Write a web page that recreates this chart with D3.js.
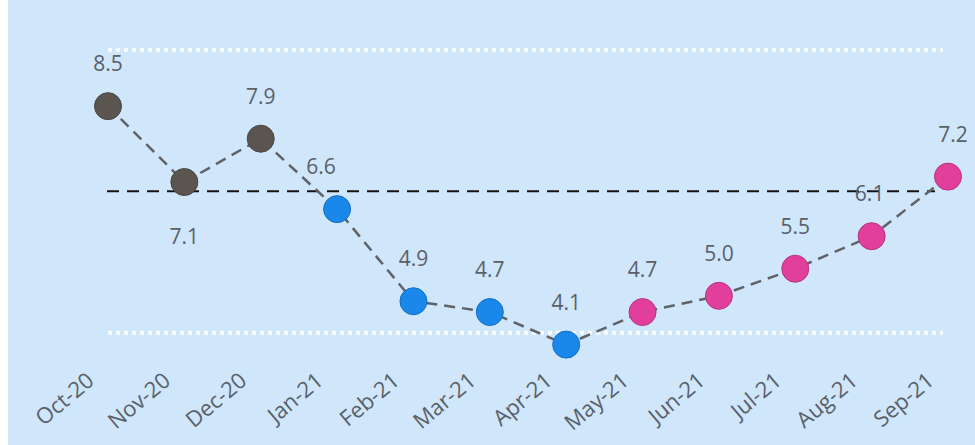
<!DOCTYPE html>
<html lang="en">
<head>
    <meta charset="UTF-8">
    <script src="https://d3js.org/d3.v7.min.js"></script>
    <title>Monthly values</title>
    <style>
        body { margin: 0; background: #fff; }
        text {
            font-family: 'Open Sans', sans-serif;
            fill: #5a6068;
        }
        .val { font-size: 21px; text-anchor: middle; }
    </style>
</head>
<body>
<script>
    const width = 975, height = 445;

    const months = ["Oct-20","Nov-20","Dec-20","Jan-21","Feb-21","Mar-21",
                    "Apr-21","May-21","Jun-21","Jul-21","Aug-21","Sep-21"];
    const values = [8.5, 7.1, 7.9, 6.6, 4.9, 4.7, 4.1, 4.7, 5.0, 5.5, 6.1, 7.2];
    const groups = ["a","a","a","b","b","b","b","c","c","c","c","c"];
    const centerLine = 6.93;
    const upperLimit = 9.54;
    const lowerLimit = 4.32;

    const colors = {a: "#5a554f", b: "#1a88ea", c: "#e23f9c"};

    const svg = d3.select("body").append("svg")
            .attr("width", width).attr("height", height);

    // light blue plot background, thin white strip on the left
    svg.append("rect")
            .attr("x", 8).attr("y", 0)
            .attr("width", width - 8).attr("height", height)
            .attr("fill", "#cfe6fb");

    const x = d3.scalePoint().domain(months).range([108, 948]);
    const y = d3.scaleLinear().domain([4, 9.5]).range([350, 52]);

    // limit lines
    [upperLimit, lowerLimit].forEach(v => {
        svg.append("line")
                .attr("x1", 108).attr("x2", 943)
                .attr("y1", y(v)).attr("y2", y(v))
                .attr("stroke", "#ffffff")
                .attr("stroke-width", 4)
                .attr("stroke-dasharray", "4,4")
                .attr("opacity", 0.85);
    });

    svg.append("line")
            .attr("x1", 107).attr("x2", 935)
            .attr("y1", y(centerLine)).attr("y2", y(centerLine))
            .attr("stroke", "#151515")
            .attr("stroke-width", 2)
            .attr("stroke-dasharray", "12,8");

    const line = d3.line()
            .x((d, i) => x(months[i]))
            .y(d => y(d));

    svg.append("path")
            .datum(values)
            .attr("d", line)
            .attr("fill", "none")
            .attr("stroke", "#5f6368")
            .attr("stroke-width", 2.5)
            .attr("stroke-dasharray", "11,7");

    svg.selectAll("circle.pt")
            .data(values)
            .join("circle")
            .attr("class", "pt")
            .attr("cx", (d, i) => x(months[i]))
            .attr("cy", d => y(d))
            .attr("r", 13.5)
            .attr("fill", (d, i) => colors[groups[i]])
            .attr("stroke", (d, i) => d3.color(colors[groups[i]]).darker(0.6))
            .attr("stroke-width", 1);

    // value labels, the second one sits under its point
    const fmt = d3.format(".1f");
    svg.selectAll("text.val")
            .data(values)
            .join("text")
            .attr("class", "val")
            .attr("x", (d, i) => x(months[i]) + (i === 3 ? -16 : i === 11 ? 5 : i === 10 ? -2 : 0))
            .attr("y", (d, i) => y(d) + (i === 1 ? 62 : -35))
            .text(d => fmt(d));

    // rotated month labels
    const axis = d3.axisBottom(x).tickSize(0).tickPadding(0);
    const g = svg.append("g")
            .attr("transform", "translate(0,383)")
            .call(axis);
    g.select(".domain").remove();
    g.selectAll(".tick text")
            .attr("text-anchor", "end")
            .attr("dy", 0)
            .attr("y", 0)
            .attr("transform", "translate(-13,0) rotate(-40)")
            .style("font-family", "'Open Sans', sans-serif")
            .style("font-size", "22px")
            .attr("fill", "#5a6570");
</script>
</body>
</html>
